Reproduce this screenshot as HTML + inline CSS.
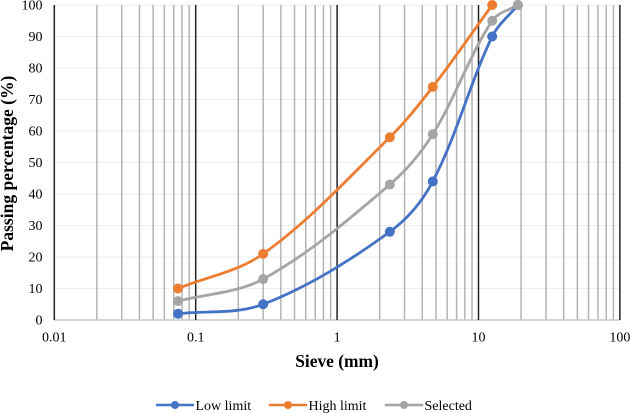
<!DOCTYPE html>
<html>
<head>
<meta charset="utf-8">
<style>
html,body{margin:0;padding:0;background:#fff;}
body{width:630px;height:413px;overflow:hidden;}
svg{display:block;font-family:"Liberation Serif",serif;}
</style>
</head>
<body>
<svg id="chart" width="630" height="413" viewBox="0 0 630 413" xmlns="http://www.w3.org/2000/svg">
  <text transform="translate(13,163.5) rotate(-90)" text-anchor="middle" font-size="17.5" font-weight="bold" fill="#000">Passing percentage (%)</text>
  <text x="337" y="367" text-anchor="middle" font-size="17.4" font-weight="bold" fill="#000">Sieve (mm)</text>
</svg>
<script>
const sieveSizes = [0.075, 0.3, 2.36, 4.75, 12.5, 19];
const lowLimit = [2, 5, 28, 44, 90, 100];
const highLimit = [10, 21, 58, 74, 100];
const selected = [6, 13, 43, 59, 95, 100];
const yTicks = [0, 10, 20, 30, 40, 50, 60, 70, 80, 90, 100];
const xTicks = [0.01, 0.1, 1, 10, 100];
const xTickLabels = ['0.01', '0.1', '1', '10', '100'];
const minorMultipliers = [2, 3, 4, 5, 6, 7, 8, 9];

const svg = document.getElementById('chart');
const NS = 'http://www.w3.org/2000/svg';
const xScale = function (v) { return 54.3 + (Math.log10(v) + 2) * 141.4; };
const yScale = function (v) { return 320 - v * 3.15; };

function make(tag, attrs, text) {
  const el = document.createElementNS(NS, tag);
  for (const k in attrs) el.setAttribute(k, attrs[k]);
  if (text !== undefined) el.textContent = text;
  svg.appendChild(el);
  return el;
}

yTicks.forEach(function (t) {
  if (t !== 0) {
    const g = make('line', { x1: xScale(0.01), x2: xScale(100), y1: yScale(t), y2: yScale(t), stroke: '#eeeeee', 'stroke-width': 1 });
    
    
  }
  const l = make('text', { x: 42.5, y: yScale(t) + 4.5, 'text-anchor': 'end', 'font-size': 14, fill: '#000' }, String(t));
  
  
});

xTicks.slice(0, -1).forEach(function (d) {
  minorMultipliers.forEach(function (m) {
    const g = make('line', { x1: xScale(d * m), x2: xScale(d * m), y1: yScale(100), y2: yScale(0), stroke: '#b4b4b4', 'stroke-width': 1.5 });
    
    
  });
});

const baseline = make('line', { x1: xScale(0.01), x2: xScale(100), y1: yScale(0), y2: yScale(0), stroke: '#c8c8c8', 'stroke-width': 1.4 });



xTicks.forEach(function (d, i) {
  const g = make('line', { x1: xScale(d), x2: xScale(d), y1: yScale(100), y2: yScale(0), stroke: '#222222', 'stroke-width': 1.5 });
  
  
  const l = make('text', { x: xScale(d), y: 341.5, 'text-anchor': 'middle', 'font-size': 14, fill: '#000' }, xTickLabels[i]);
  
  
});

function tangent(a, b) {
  const dx = b[0] - a[0];
  const dy = b[1] - a[1];
  const len = Math.hypot(dx, dy) || 1;
  return [dx / len, dy / len];
}

function smoothPath(pts) {
  let d = 'M' + pts[0][0] + ' ' + pts[0][1];
  for (let i = 0; i < pts.length - 1; i++) {
    const p0 = pts[Math.max(i - 1, 0)];
    const p1 = pts[i];
    const p2 = pts[i + 1];
    const p3 = pts[Math.min(i + 2, pts.length - 1)];
    const seg = Math.hypot(p2[0] - p1[0], p2[1] - p1[1]) / 3;
    const t1 = tangent(p0, p2);
    const t2 = tangent(p1, p3);
    d += ' C' + (p1[0] + t1[0] * seg) + ' ' + (p1[1] + t1[1] * seg) + ' ' + (p2[0] - t2[0] * seg) + ' ' + (p2[1] - t2[1] * seg) + ' ' + p2[0] + ' ' + p2[1];
  }
  return d;
}

function drawSeries(values, color, name) {
  const pts = values.map(function (v, i) { return [xScale(sieveSizes[i]), yScale(v)]; });
  const line = make('path', { d: smoothPath(pts), fill: 'none', stroke: color, 'stroke-width': 2.8, 'stroke-linecap': 'round' });
  
  
  pts.forEach(function (p) {
    const c = make('circle', { cx: p[0], cy: p[1], r: 5, fill: color });
    
    
  });
}

drawSeries(lowLimit, '#4472c4', 'low-limit');
drawSeries(highLimit, '#ed7d31', 'high-limit');
drawSeries(selected, '#a5a5a5', 'selected');

function legendEntry(x, color, label, name) {
  const line = make('line', { x1: x, x2: x + 36, y1: 405, y2: 405, stroke: color, 'stroke-width': 2.6, 'stroke-linecap': 'round' });
  
  
  const dot = make('circle', { cx: x + 18, cy: 405, r: 4, fill: color });
  
  
  const t = make('text', { x: x + 38.5, y: 410, 'font-size': 14, fill: '#000' }, label);
  
  
}

legendEntry(157, '#4472c4', 'Low limit', 'low-limit');
legendEntry(270, '#ed7d31', 'High limit', 'high-limit');
legendEntry(386, '#a5a5a5', 'Selected', 'selected');
</script>
</body>
</html>
